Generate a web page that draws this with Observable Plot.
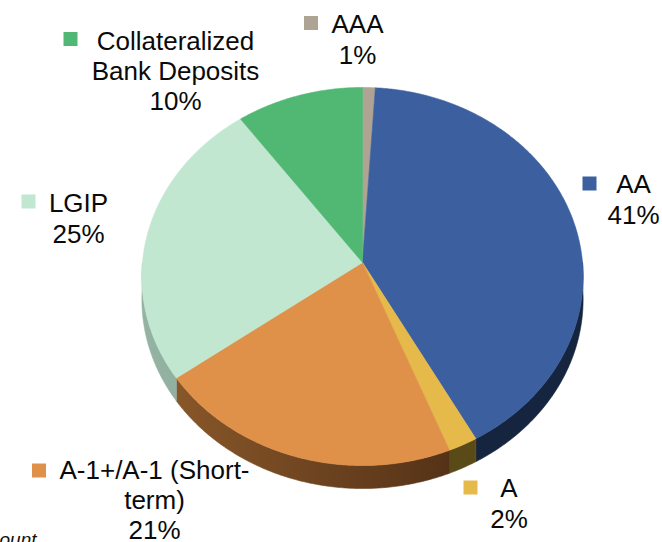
<!DOCTYPE html>
<html><head><meta charset="utf-8">
<script src="https://cdn.jsdelivr.net/npm/d3@7"></script>
<script src="https://cdn.jsdelivr.net/npm/@observablehq/plot@0.6"></script>
<style>body{margin:0;background:#fff;overflow:hidden}#chart svg{display:block}</style>
</head><body><div id="chart"></div>
<script>
// ---- data ----
const categories = ["AAA", "AA", "A", "A-1+/A-1 (Short-term)", "LGIP", "Collateralized Bank Deposits"];
const values = [1, 41, 2, 21, 25, 10];
const labelTexts = ["AAA\n1%", "AA\n41%", "A\n2%", "A-1+/A-1 (Short-\nterm)\n21%", "LGIP\n25%", "Collateralized\nBank Deposits\n10%"];
const footnoteText = "ount";

// ---- styles / layout ----
const faceColors = ["#afa393", "#3b5f9f", "#e6b94b", "#df914a", "#c1e7d0", "#51b874"];
const sideGrad = [["#7d7466", "#6d6456"], ["#1e3358", "#15243f"], ["#6a5820", "#5a4a18"], ["#8e5b2b", "#553217"], ["#94b3a3", "#7f9d8e"], ["#2f7a4a", "#2a6c42"]];
// label anchor (center x, last baseline y) and marker centers, in pixels
const labelPos = [[357, 63], [633, 223], [508.5, 527], [154, 538.5], [78, 242], [175, 109.5]];
const markerPos = [[310.5, 22.5], [589, 183], [470, 487], [38.5, 470], [28, 201], [70, 38.5]];

const W = 662, H = 542, CX = 362, CY = 262, RX = 220, RY = 188, PERSP = 0.0741, DEPTH = 23;
const ux = px => (px - CX) / RX;
const uy = py => (CY - py) / RY;

function proj(theta) { // theta clockwise from 12 o'clock
  const u = Math.sin(theta), v = Math.cos(theta);
  const k = 1 / (1 + PERSP * v);
  return [u * k, v * k];
}

const total = d3.sum(values);
const cum = d3.cumsum(values);
const slices = categories.map((c, i) => ({cat: c, i, a0: 2 * Math.PI * (cum[i] - values[i]) / total, a1: 2 * Math.PI * cum[i] / total}));

function arcPts(a0, a1) {
  const n = Math.max(2, Math.ceil((a1 - a0) / (Math.PI / 360)));
  return d3.range(n + 1).map(j => proj(a0 + (a1 - a0) * j / n));
}

const faceRows = [];
for (const s of slices) {
  const pts = [[0, 0], ...arcPts(s.a0, s.a1), [0, 0]];
  pts.forEach(([x, y]) => faceRows.push({cat: s.cat, x, y}));
}

const dY = DEPTH / RY;
const sideRows = slices.map(s => {
  const b0 = Math.max(s.a0, Math.PI / 2), b1 = Math.min(s.a1, 3 * Math.PI / 2);
  if (b1 <= b0) return [];
  const top = arcPts(b0, b1);
  const bot = top.map(([x, y]) => [x, y - dY]).reverse();
  return [...top, ...bot, top[0]].map(([x, y]) => ({cat: s.cat, x, y}));
});

const labelRows = categories.map((c, i) => ({cat: c, text: labelTexts[i], x: ux(labelPos[i][0]), y: uy(labelPos[i][1])}));
const markerRows = categories.map((c, i) => ({cat: c, x: ux(markerPos[i][0]), y: uy(markerPos[i][1])}));

const font = "'Liberation Sans', Arial, Helvetica, sans-serif";

const marks = [];
sideRows.forEach((rows, i) => {
  if (rows.length) marks.push(Plot.line(rows, {x: "x", y: "y", fill: `url(#side${i})`, stroke: `url(#side${i})`, strokeWidth: 0.6, curve: "linear"}));
});
marks.push(Plot.line(faceRows, {x: "x", y: "y", z: "cat", fill: "cat", stroke: "cat", strokeWidth: 0.6, curve: "linear"}));
marks.push(Plot.dot(markerRows, {x: "x", y: "y", fill: "cat", symbol: "square", r: 7.9, stroke: "none"}));
marks.push(Plot.text(labelRows, {x: "x", y: "y", text: "text", textAnchor: "middle", lineAnchor: "bottom", lineHeight: 1.16, fontSize: 26, fill: "#0a0a0a"}));
marks.push(Plot.text([footnoteText], {x: ux(-1), y: uy(545), text: d => d, textAnchor: "start", lineAnchor: "bottom", fontSize: 19, fontStyle: "italic", fill: "#111"}));

const svg = Plot.plot({
  width: W, height: H,
  marginTop: 0, marginRight: 0, marginBottom: 0, marginLeft: 0,
  x: {domain: [-1, 1], range: [CX - RX, CX + RX], axis: null},
  y: {domain: [-1, 1], range: [CY + RY, CY - RY], axis: null},
  color: {domain: categories, range: faceColors},
  style: {fontFamily: font, background: "#fff"},
  marks
});

const defs = d3.select(svg).insert("defs", ":first-child");
sideGrad.forEach(([c0, c1], i) => {
  const g = defs.append("linearGradient").attr("id", `side${i}`).attr("gradientUnits", "userSpaceOnUse")
    .attr("x1", CX - RX).attr("y1", 0).attr("x2", CX + RX * 0.4).attr("y2", 0);
  g.append("stop").attr("offset", "0").attr("stop-color", c0);
  g.append("stop").attr("offset", "1").attr("stop-color", c1);
});

document.getElementById("chart").appendChild(svg);
</script>
</body></html>
